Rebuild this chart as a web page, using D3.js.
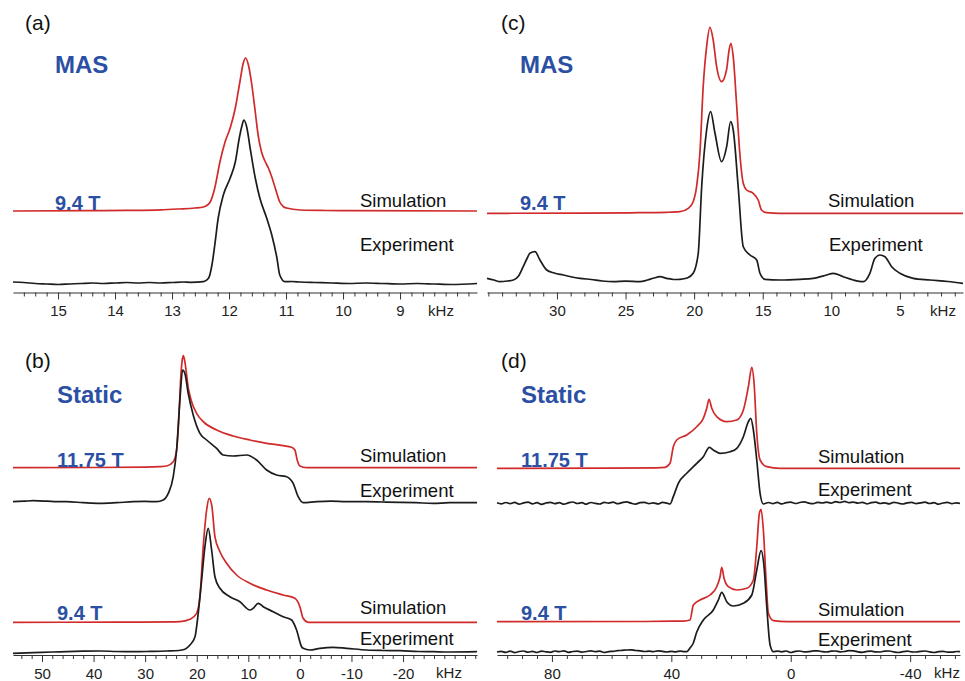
<!DOCTYPE html>
<html><head><meta charset="utf-8">
<script src="https://cdn.jsdelivr.net/npm/d3@7"></script>
<style>
body{margin:0;background:#fff}
svg{display:block}
text{font-family:"Liberation Sans",Arial,sans-serif}
</style>
</head><body>
<svg id="chart" width="965" height="681"></svg>
<script>
// ---------- DATA : [frequency (kHz), intensity (a.u.)] ----------
// (a) MAS, 9.4 T
const aSim = [[15.79,0],[14.5,0.3],[13.8,0.6],[13.2,1.2],[12.9,2],[12.6,3],[12.45,4],[12.38,6],[12.33,9],[12.25,23],[12.16,49],[12.07,69],[11.98,83],[11.89,103],[11.81,129],[11.75,148],[11.71,153],[11.66,146],[11.60,126],[11.54,99],[11.49,76],[11.43,59],[11.37,50],[11.31,43],[11.25,34],[11.19,23],[11.11,9],[11.04,4],[10.99,3],[10.75,1],[10.3,0.5],[9.88,0.3],[7.65,0]];
const aExp = [[15.79,1],[15.6,0.5],[15.4,-0.5],[15.2,-1],[15.0,-1.5],[14.8,-1],[14.6,-0.5],[14.4,0],[14.2,-0.5],[14.0,0],[13.8,0.5],[13.6,0],[13.4,0.5],[13.2,0],[13.0,0.5],[12.8,1],[12.68,0.7],[12.45,1.3],[12.36,4.7],[12.30,18],[12.25,38],[12.19,65],[12.10,88],[11.98,105],[11.89,121],[11.82,145],[11.77,158],[11.74,163],[11.69,156],[11.63,135],[11.54,105],[11.46,85],[11.34,65],[11.25,48],[11.16,25],[11.11,8],[11.02,1.3],[10.9,1.5],[10.75,1],[10.5,0.5],[10.2,0],[9.9,-0.5],[9.6,0],[9.3,-0.5],[9.0,-1],[8.7,-0.5],[8.4,-1],[8.1,-1.5],[7.65,-0.5]];
// (c) MAS, 9.4 T
const cSim = [[35.1,0],[28,0.2],[24.7,0.5],[22,1],[21.04,1.6],[20.43,5],[20.07,11.6],[19.82,26.6],[19.58,60],[19.34,126.6],[19.09,166.6],[18.85,186],[18.61,173.3],[18.36,146.6],[18.00,131.6],[17.64,143.3],[17.45,163.3],[17.32,170],[17.15,156.6],[16.91,110],[16.67,60],[16.42,30],[16.18,23.3],[15.70,20],[15.33,13.3],[15.09,3.3],[14.72,0.6],[13.75,0],[0.4,0]];
const cExp = [[35.1,1.7],[34.6,0],[34.15,-1.7],[33.6,-1],[33.18,0],[32.8,4],[32.46,13.3],[32.2,21],[31.97,26.7],[31.6,28.3],[31.24,20],[30.75,10],[30.2,7],[29.54,5],[28.9,3],[28.32,1.7],[27.5,0.5],[26.7,-1],[25.9,-1.7],[25,-1.2],[23.95,-1.7],[23.4,0],[22.98,1.7],[22.49,3.3],[22.0,1.7],[21.5,0.5],[21.04,0.7],[20.5,2],[20.07,6.7],[19.70,26.7],[19.45,93.3],[19.09,150],[18.80,168.3],[18.48,146.7],[18.00,118.3],[17.63,133.3],[17.34,158.3],[17.15,150],[16.79,93.3],[16.42,33.3],[15.93,25],[15.44,20],[15.20,6.7],[14.84,0.7],[13.75,0],[12.29,0.7],[11.32,1.7],[10.34,5],[9.86,6.7],[9.13,3.3],[8.40,0],[7.67,-1.7],[7.19,6.7],[6.82,21.7],[6.46,25],[6.09,23.3],[5.60,13.3],[5.00,6.7],[4.03,1.7],[2.81,0],[1.5,-1.5],[0.4,-3.3]];
// (b) Static, 11.75 T and 9.4 T
const bSim1175 = [[55.62,0],[40,0.2],[30,0.5],[27.13,1],[25.83,1.7],[24.55,6],[23.90,17.7],[23.45,51],[23.12,88],[22.85,106],[22.6,112],[22.3,106],[21.96,93],[21.65,80],[21.3,72],[20.99,66],[20.02,54.4],[18.74,46],[16.14,37.7],[12.93,31.7],[9.69,27.7],[6.45,24.4],[3.24,22],[1.61,20.4],[0.97,17.7],[0.52,7.7],[0,1.7],[-1.3,0],[-34.34,0]];
const bExp1175 = [[55.62,0],[53.5,0.5],[51.69,1],[49,0.5],[47,0],[45.21,0],[42,-1],[38.76,-1.7],[35.5,-1],[32.31,0],[30,0.3],[27.77,0],[26.49,1.7],[25.52,8.3],[24.55,25],[23.90,51.7],[23.26,101.7],[22.73,131.7],[22.29,128.3],[21.65,108.3],[20.68,86.7],[19.38,68.3],[18.08,61.7],[16.14,53.3],[14.86,46.7],[12.93,45.7],[10.33,46.7],[8.39,41.7],[6.45,31.7],[4.52,26.7],[2.58,25],[1.30,18.3],[0.33,5],[-0.64,-1],[-3.24,0],[-6,0.5],[-9,0],[-12.93,0],[-16,-0.3],[-19.38,-0.6],[-22.5,-1],[-25.83,-1.7],[-29,-1],[-34.34,-1]];
const bSim94 = [[55.62,0],[35,0.2],[25,0.4],[23.26,0.6],[21.32,3],[20.02,9],[19.38,25.6],[18.74,75.6],[18.08,112.3],[17.58,124],[17.05,115.6],[16.47,85.6],[15.50,70.6],[14.21,59],[12.27,47.3],[9.69,39],[6.45,32.3],[3.24,27.3],[0.97,24],[0,15.6],[-0.64,4],[-1.61,0],[-34.34,0]];
const bExp94 = [[55.62,-1.3],[51.69,-0.7],[48,0],[45.21,0.3],[42,0.8],[38.76,1],[35.5,0.5],[32.31,0.3],[29,0.6],[25.83,1],[23.5,1.5],[22.29,2.7],[21.32,7],[20.35,15],[19.71,38.7],[19.05,72],[18.41,105.3],[17.77,123.7],[17.11,102],[16.47,75.3],[15.50,63.7],[13.57,55.3],[11.63,50.3],[9.69,42],[9.05,43.7],[8.08,48.7],[7.11,45.3],[5.17,40.3],[3.24,35.3],[1.61,32],[0.64,22],[-0.33,5.3],[-0.64,3.7],[-1.94,2],[-3.88,3.7],[-6.45,4.7],[-9.05,3.7],[-12.93,2],[-16,1.5],[-19.38,1.3],[-23,0.5],[-25.83,0.3],[-29,0],[-34.34,0.3]];
// (d) Static, 11.75 T and 9.4 T
const dSim1175 = [[98.4,0],[60,0.2],[45,0.5],[42.12,1],[40.44,5],[39.34,21.6],[38.20,28.3],[34.84,33.3],[31.49,41.6],[29.28,50],[28.14,60],[27.37,69],[26.46,60],[24.79,51.6],[21.44,46.6],[18.08,48.3],[15.87,58.3],[14.19,81.6],[13.05,101],[12.28,85],[11.38,35],[10.27,8.3],[8.03,1.6],[3.57,0],[-56.7,0]];
const dExp1175 = [[98.4,0.5],[97,-0.6],[95.5,0.8],[94,-0.3],[92.5,1],[91,-0.8],[89.5,0.4],[88,1.2],[86.5,-0.5],[85,0.6],[83.5,-1],[82,0.3],[80.5,1],[79,-0.4],[77.5,0.7],[76,-0.9],[74.5,0.5],[73,1.3],[71.5,-0.2],[70,0.6],[68.5,-0.9],[67,0.8],[65.5,0],[64,-0.7],[62.5,0.9],[61,0.2],[59.5,1.1],[58,-0.4],[56.5,0.7],[55,1.4],[53.5,0.1],[52,-0.8],[50.5,0.6],[49,1],[47.5,-0.3],[46,0.5],[44.5,-0.6],[43,0.9],[41.5,0.2],[40.44,-0.7],[39.34,6.6],[37.66,20],[34.84,30],[31.49,40],[29.28,46.6],[27.27,56],[25.93,53.3],[23.69,50],[20.33,51.6],[18.08,55],[15.87,66.6],[14.19,81.6],[13.39,85],[12.52,73.3],[11.38,43.3],[10.27,10],[9.17,-0.7],[7.5,0.8],[6,-0.3],[4.5,0.9],[3,-0.6],[1.5,0.7],[0,1.2],[-1.5,-0.2],[-3,0.8],[-4.5,1.5],[-6,0.2],[-7.5,-0.4],[-9,0.9],[-10.5,0.3],[-12,1.1],[-13.5,0.2],[-15,1.6],[-16.5,0.8],[-18,1.9],[-19.5,0.6],[-21,1.2],[-22.5,0.1],[-24,0.9],[-25.5,-0.5],[-27,0.6],[-28.5,1.1],[-30,-0.2],[-31.5,0.5],[-33,-0.6],[-34.5,1],[-36,0.2],[-37.5,-0.7],[-39,0.5],[-40.5,1],[-42,-0.3],[-43.5,0.4],[-45,1.1],[-46.5,-0.2],[-48,0.6],[-49.5,-0.9],[-51,0.3],[-52.5,0.9],[-54,-0.4],[-55.5,0.4],[-56.7,0]];
const dSim94 = [[98.4,0],[50,0.2],[40,0.5],[35.98,0.6],[33.74,1.7],[32.63,16.7],[30.39,21.7],[27.03,26.7],[24.79,35],[23.68,45],[23.11,54.4],[22.34,43.4],[20.90,35],[18.08,31.7],[14.73,33.4],[12.52,41.7],[11.38,75],[10.51,108.4],[9.94,112.4],[9.17,91.7],[8.26,41.7],[7.49,8.4],[5.81,1],[1.34,0],[-56.7,0]];
const dExp94 = [[98.4,0],[97,0.7],[95.5,-0.4],[94,0.9],[92.5,-0.6],[91,0.5],[89.5,1],[88,-0.2],[86.5,0.6],[85,-0.5],[83.5,0.9],[82,0.2],[80.5,-0.3],[79,1],[77.5,0.4],[76,1.2],[74.5,-0.4],[73,0.5],[71.5,0.8],[70,-0.1],[68.5,0.5],[67,1.1],[65.5,0.3],[64,0.9],[62.5,-0.5],[61,0.4],[59.5,0.7],[58,1.3],[56.5,1.6],[55,2],[53.5,2.2],[52,1.5],[50.5,1.1],[49,0.5],[47.5,0.9],[46,0.3],[44.5,1.1],[43,0.6],[41.5,0],[40,0.7],[38.5,0.2],[37,0.9],[35.5,0.3],[34.84,0.3],[33.74,4],[32.63,9],[31.49,20],[29.28,32],[25.93,42],[24.25,52],[23.11,59.7],[21.44,50.3],[19.22,46],[15.87,48.7],[13.05,57],[11.38,82],[9.94,101.3],[8.94,85.3],[8.03,45.3],[6.92,7],[5.81,0.3],[4.5,0.9],[3,0.2],[1.5,1],[0,-0.5],[-1.5,0.6],[-3,1],[-4.5,0.1],[-6,0.3],[-7.5,1.1],[-9,1.2],[-10.5,0.4],[-12,0],[-13.5,0.8],[-15,1],[-16.5,0.2],[-18,0.5],[-19.5,1.3],[-21,1.2],[-22.5,0.2],[-24,-0.3],[-25.5,0.6],[-27,0.8],[-28.5,0.1],[-30,0],[-31.5,0.9],[-33,1],[-34.5,0.1],[-36,-0.5],[-37.5,0.3],[-39,0.8],[-40.5,0.2],[-42,0],[-43.5,0.7],[-45,1],[-46.5,0.2],[-48,-0.5],[-49.5,0.3],[-51,0.6],[-52.5,-0.1],[-54,-0.2],[-55.5,0.5],[-56.7,0.3]];

// tick labels
const aTicks = [15,14,13,12,11,10,9];
const cTicks = [30,25,20,15,10,5];
const bTicks = [50,40,30,20,10,0,-10,-20];
const dTicks = [80,40,0,-40];
const unitLabel = "kHz";

// ---------- LAYOUT ----------
const RED = "#d02a2a", BLACK = "#1c1c1c", BLUE = "#2b4fa3";
const panels = [
  {tag:"(a)", mode:"MAS", dom:[15.79,7.65], rng:[13,477], axisY:292.5, minorStep:0.2, ticks:aTicks, unitX:441,
   tagPos:[25,30], modePos:[55,73],
   traces:[{d:aSim,base:211,c:RED},{d:aExp,base:283,c:BLACK}],
   labels:[{t:"9.4 T",x:55,y:210,blue:true},{t:"Simulation",x:360,y:207},{t:"Experiment",x:360,y:251}]},
  {tag:"(c)", mode:"MAS", dom:[35.1,0.4], rng:[487,963], axisY:292.5, minorStep:1, ticks:cTicks, unitX:943,
   tagPos:[501,30], modePos:[520,73],
   traces:[{d:cSim,base:213.3,c:RED},{d:cExp,base:280,c:BLACK}],
   labels:[{t:"9.4 T",x:520,y:210,blue:true},{t:"Simulation",x:828,y:207},{t:"Experiment",x:829,y:251}]},
  {tag:"(b)", mode:"Static", dom:[55.62,-34.34], rng:[13,477], axisY:655, minorStep:2, ticks:bTicks, unitX:449,
   tagPos:[25,368], modePos:[57,403],
   traces:[{d:bSim1175,base:467.7,c:RED},{d:bExp1175,base:501.7,c:BLACK},{d:bSim94,base:622.3,c:RED},{d:bExp94,base:652,c:BLACK}],
   labels:[{t:"11.75 T",x:57,y:467,blue:true},{t:"Simulation",x:360,y:462},{t:"Experiment",x:360,y:497},
           {t:"9.4 T",x:57,y:620,blue:true},{t:"Simulation",x:360,y:614},{t:"Experiment",x:360,y:645}]},
  {tag:"(d)", mode:"Static", dom:[98.4,-56.7], rng:[497,960], axisY:655, minorStep:5, ticks:dTicks, unitX:947,
   tagPos:[501,368], modePos:[521,403],
   traces:[{d:dSim1175,base:468.3,c:RED},{d:dExp1175,base:503.3,c:BLACK},{d:dSim94,base:621.7,c:RED},{d:dExp94,base:652,c:BLACK}],
   labels:[{t:"11.75 T",x:521,y:467,blue:true},{t:"Simulation",x:818,y:463},{t:"Experiment",x:818,y:496},
           {t:"9.4 T",x:521,y:620,blue:true},{t:"Simulation",x:818,y:616},{t:"Experiment",x:818,y:646}]}
];

const svg = d3.select("#chart");

panels.forEach(p => {
  const g = svg.append("g");
  const x = d3.scaleLinear().domain(p.dom).range(p.rng);
  const hi = Math.max(p.dom[0], p.dom[1]), lo = Math.min(p.dom[0], p.dom[1]);
  const minor = d3.range(Math.ceil(lo / p.minorStep) * p.minorStep, hi, p.minorStep)
                  .map(v => Math.round(v * 1000) / 1000)
                  .filter(v => !p.ticks.some(t => Math.abs(t - v) < 1e-6));

  const axMinor = g.append("g").attr("transform", `translate(0,${p.axisY})`)
    .call(d3.axisBottom(x).tickValues(minor).tickSize(4).tickSizeOuter(0).tickFormat(""));
  const axMajor = g.append("g").attr("transform", `translate(0,${p.axisY})`)
    .call(d3.axisBottom(x).tickValues(p.ticks).tickSize(7).tickSizeOuter(0).tickPadding(6).tickFormat(d => String(d)));
  [axMinor, axMajor].forEach(a => {
    a.select(".domain").attr("stroke", "#333").attr("stroke-width", 1.2);
    a.selectAll(".tick line").attr("stroke", "#333").attr("stroke-width", 1);
  });
  axMinor.select(".domain").remove();
  axMajor.selectAll(".tick text").attr("font-size", 15).attr("fill", "#222")
    .attr("font-family", '"Liberation Sans", Arial, sans-serif');
  g.append("text").attr("x", p.unitX).attr("y", p.axisY + 23).attr("text-anchor", "middle")
    .attr("font-size", 15).attr("fill", "#222").text(unitLabel);

  p.traces.forEach(tr => {
    const y = d3.scaleLinear().domain([0, 100]).range([tr.base, tr.base - 100]);
    const line = d3.line().x(d => x(d[0])).y(d => y(d[1])).curve(d3.curveMonotoneX);
    g.append("path").datum(tr.d).attr("d", line)
      .attr("fill", "none").attr("stroke", tr.c).attr("stroke-width", 1.7)
      .attr("stroke-linejoin", "round");
  });

  g.append("text").attr("x", p.tagPos[0]).attr("y", p.tagPos[1]).attr("font-size", 21).attr("fill", "#111").text(p.tag);
  g.append("text").attr("x", p.modePos[0]).attr("y", p.modePos[1]).attr("font-size", 24).attr("font-weight", "bold")
    .attr("fill", BLUE).text(p.mode);
  p.labels.forEach(l => {
    g.append("text").attr("x", l.x).attr("y", l.y)
      .attr("font-size", l.blue ? 20 : 18.5)
      .attr("font-weight", l.blue ? "bold" : "normal")
      .attr("fill", l.blue ? BLUE : "#111").text(l.t);
  });
});
</script>
</body></html>
